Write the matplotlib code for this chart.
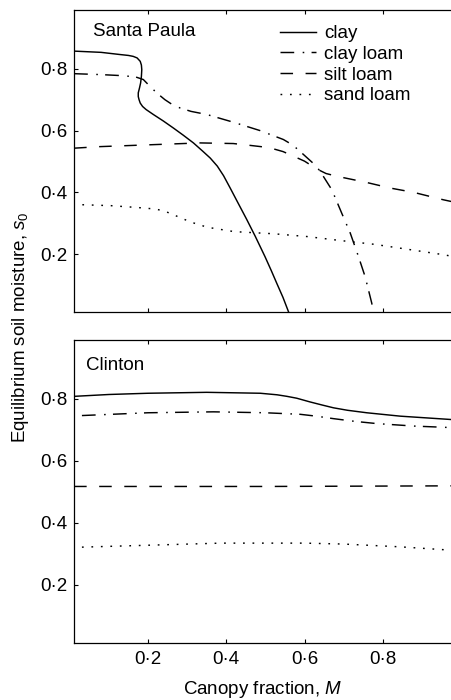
import numpy as np
import matplotlib
matplotlib.use('Agg')
import matplotlib.pyplot as plt
from matplotlib.ticker import FuncFormatter

plt.rcParams['font.family'] = ['Liberation Sans', 'DejaVu Sans']
plt.rcParams['mathtext.fontset'] = 'custom'
plt.rcParams['mathtext.rm'] = 'Liberation Sans'
plt.rcParams['mathtext.it'] = 'Liberation Sans:italic'
plt.rcParams['font.size'] = 13.5

# Santa Paula (top panel)
sp_clay_m = [0.011, 0.08, 0.128, 0.150, 0.162, 0.172, 0.180, 0.183, 0.184, 0.183, 0.181, 0.178,
             0.175, 0.175, 0.177, 0.180, 0.186, 0.195, 0.2135, 0.239, 0.265, 0.290, 0.316,
             0.340, 0.359, 0.377, 0.393, 0.410, 0.427, 0.452, 0.474, 0.499, 0.515, 0.529, 0.545, 0.559]
sp_clay_s = [0.857, 0.853, 0.846, 0.843, 0.840, 0.835, 0.824, 0.812, 0.797, 0.775, 0.754, 0.737,
             0.722, 0.710, 0.700, 0.689, 0.678, 0.668, 0.652, 0.631, 0.608, 0.585, 0.560,
             0.533, 0.511, 0.485, 0.454, 0.414, 0.373, 0.313, 0.258, 0.192, 0.147, 0.106, 0.060, 0.014]

sp_cloam_m = [0.011, 0.08, 0.128, 0.167, 0.188, 0.205, 0.222, 0.243, 0.262, 0.282, 0.310, 0.350,
              0.418, 0.486, 0.546, 0.570, 0.589, 0.610, 0.631, 0.648, 0.670, 0.695, 0.717, 0.738,
              0.755, 0.772, 0.775]
sp_cloam_s = [0.784, 0.781, 0.778, 0.774, 0.765, 0.743, 0.722, 0.700, 0.684, 0.673, 0.662, 0.652,
              0.627, 0.600, 0.571, 0.553, 0.532, 0.508, 0.484, 0.452, 0.408, 0.333, 0.268, 0.192,
              0.127, 0.041, 0.014]

sp_sloam_m = [0.011, 0.077, 0.205, 0.333, 0.418, 0.461, 0.495, 0.520, 0.545, 0.563, 0.600, 0.631,
              0.655, 0.683, 0.759, 0.819, 0.879, 0.955, 0.977]
sp_sloam_s = [0.543, 0.548, 0.554, 0.560, 0.558, 0.552, 0.547, 0.541, 0.532, 0.522, 0.501, 0.476,
              0.461, 0.452, 0.432, 0.414, 0.400, 0.376, 0.370]

sp_sand_m = [0.032, 0.105, 0.173, 0.220, 0.245, 0.266, 0.309, 0.352, 0.420, 0.522, 0.607, 0.693,
             0.778, 0.863, 0.957, 0.977]
sp_sand_s = [0.360, 0.357, 0.351, 0.346, 0.338, 0.327, 0.304, 0.287, 0.273, 0.266, 0.257, 0.244,
             0.232, 0.216, 0.198, 0.193]

# Clinton (bottom panel)
cl_clay_m = [0.011, 0.10, 0.20, 0.35, 0.487, 0.530, 0.555, 0.58, 0.614, 0.645, 0.674, 0.71,
             0.759, 0.845, 0.977]
cl_clay_s = [0.808, 0.814, 0.818, 0.821, 0.818, 0.813, 0.808, 0.802, 0.790, 0.780, 0.771, 0.763,
             0.755, 0.744, 0.733]

cl_cloam_m = [0.031, 0.20, 0.367, 0.50, 0.589, 0.630, 0.674, 0.730, 0.785, 0.880, 0.977]
cl_cloam_s = [0.746, 0.755, 0.758, 0.755, 0.750, 0.744, 0.736, 0.727, 0.720, 0.712, 0.707]

cl_sloam_m = [0.011, 0.50, 0.977]
cl_sloam_s = [0.517, 0.517, 0.519]

cl_sand_m = [0.031, 0.386, 0.60, 0.70, 0.845, 0.977]
cl_sand_s = [0.321, 0.334, 0.334, 0.331, 0.322, 0.311]

labels = ['clay', 'clay loam', 'silt loam', 'sand loam']
styles = [dict(linestyle='-'),
          dict(linestyle=(0, (9.4, 5.8, 1.1, 5.0))),
          dict(linestyle=(0, (8.6, 8.6))),
          dict(linestyle=(0, (1.2, 5.3)))]

ticks = [0.2, 0.4, 0.6, 0.8]
fmt = FuncFormatter(lambda v, p: ('%.1f' % v).replace('.', '\u00b7'))


def panel(ax, data, name, name_xy):
    for (m, s), lab, st in zip(data, labels, styles):
        ax.plot(m, s, color='black', linewidth=1.05, label=lab, **st)
    ax.set_xlim(0.0107, 0.977)
    ax.set_ylim(0.013, 0.99)
    ax.set_xticks(ticks)
    ax.set_yticks(ticks)
    ax.xaxis.set_major_formatter(fmt)
    ax.yaxis.set_major_formatter(fmt)
    ax.tick_params(direction='in', length=3, width=0.8, top=True, right=False,
                   labelsize=13.5, pad=4.5)
    ax.tick_params(axis='x', pad=6)
    ax.spines['right'].set_visible(False)
    for sp in ['left', 'top', 'bottom']:
        ax.spines[sp].set_linewidth(0.9)
    ax.text(name_xy[0], name_xy[1], name, transform=ax.transAxes,
            fontsize=13.5, va='center', ha='left')


fig = plt.figure(figsize=(4.52, 7.0), dpi=100)
ax1 = fig.add_axes([0.1637, 0.5543, 0.8363, 0.4314])
ax2 = fig.add_axes([0.1637, 0.0821, 0.8363, 0.4322])

panel(ax1, [(sp_clay_m, sp_clay_s), (sp_cloam_m, sp_cloam_s),
            (sp_sloam_m, sp_sloam_s), (sp_sand_m, sp_sand_s)],
      'Santa Paula', (0.049, 0.928))
panel(ax2, [(cl_clay_m, cl_clay_s), (cl_cloam_m, cl_cloam_s),
            (cl_sloam_m, cl_sloam_s), (cl_sand_m, cl_sand_s)],
      'Clinton', (0.032, 0.917))

ax1.tick_params(labelbottom=False)
ax1.legend(loc='upper left', bbox_to_anchor=(0.545, 0.950), frameon=False,
           fontsize=13.5, handlelength=1.9, handletextpad=0.45, labelspacing=0.19,
           borderpad=0, borderaxespad=0)

ax2.set_xlabel(r'Canopy fraction, $M$', fontsize=13.5, labelpad=8)
fig.text(0.046, 0.533, r'Equilibrium soil moisture, $s_0$', rotation=90,
         fontsize=13.5, ha='center', va='center')

fig.savefig('out.png', dpi=100)
